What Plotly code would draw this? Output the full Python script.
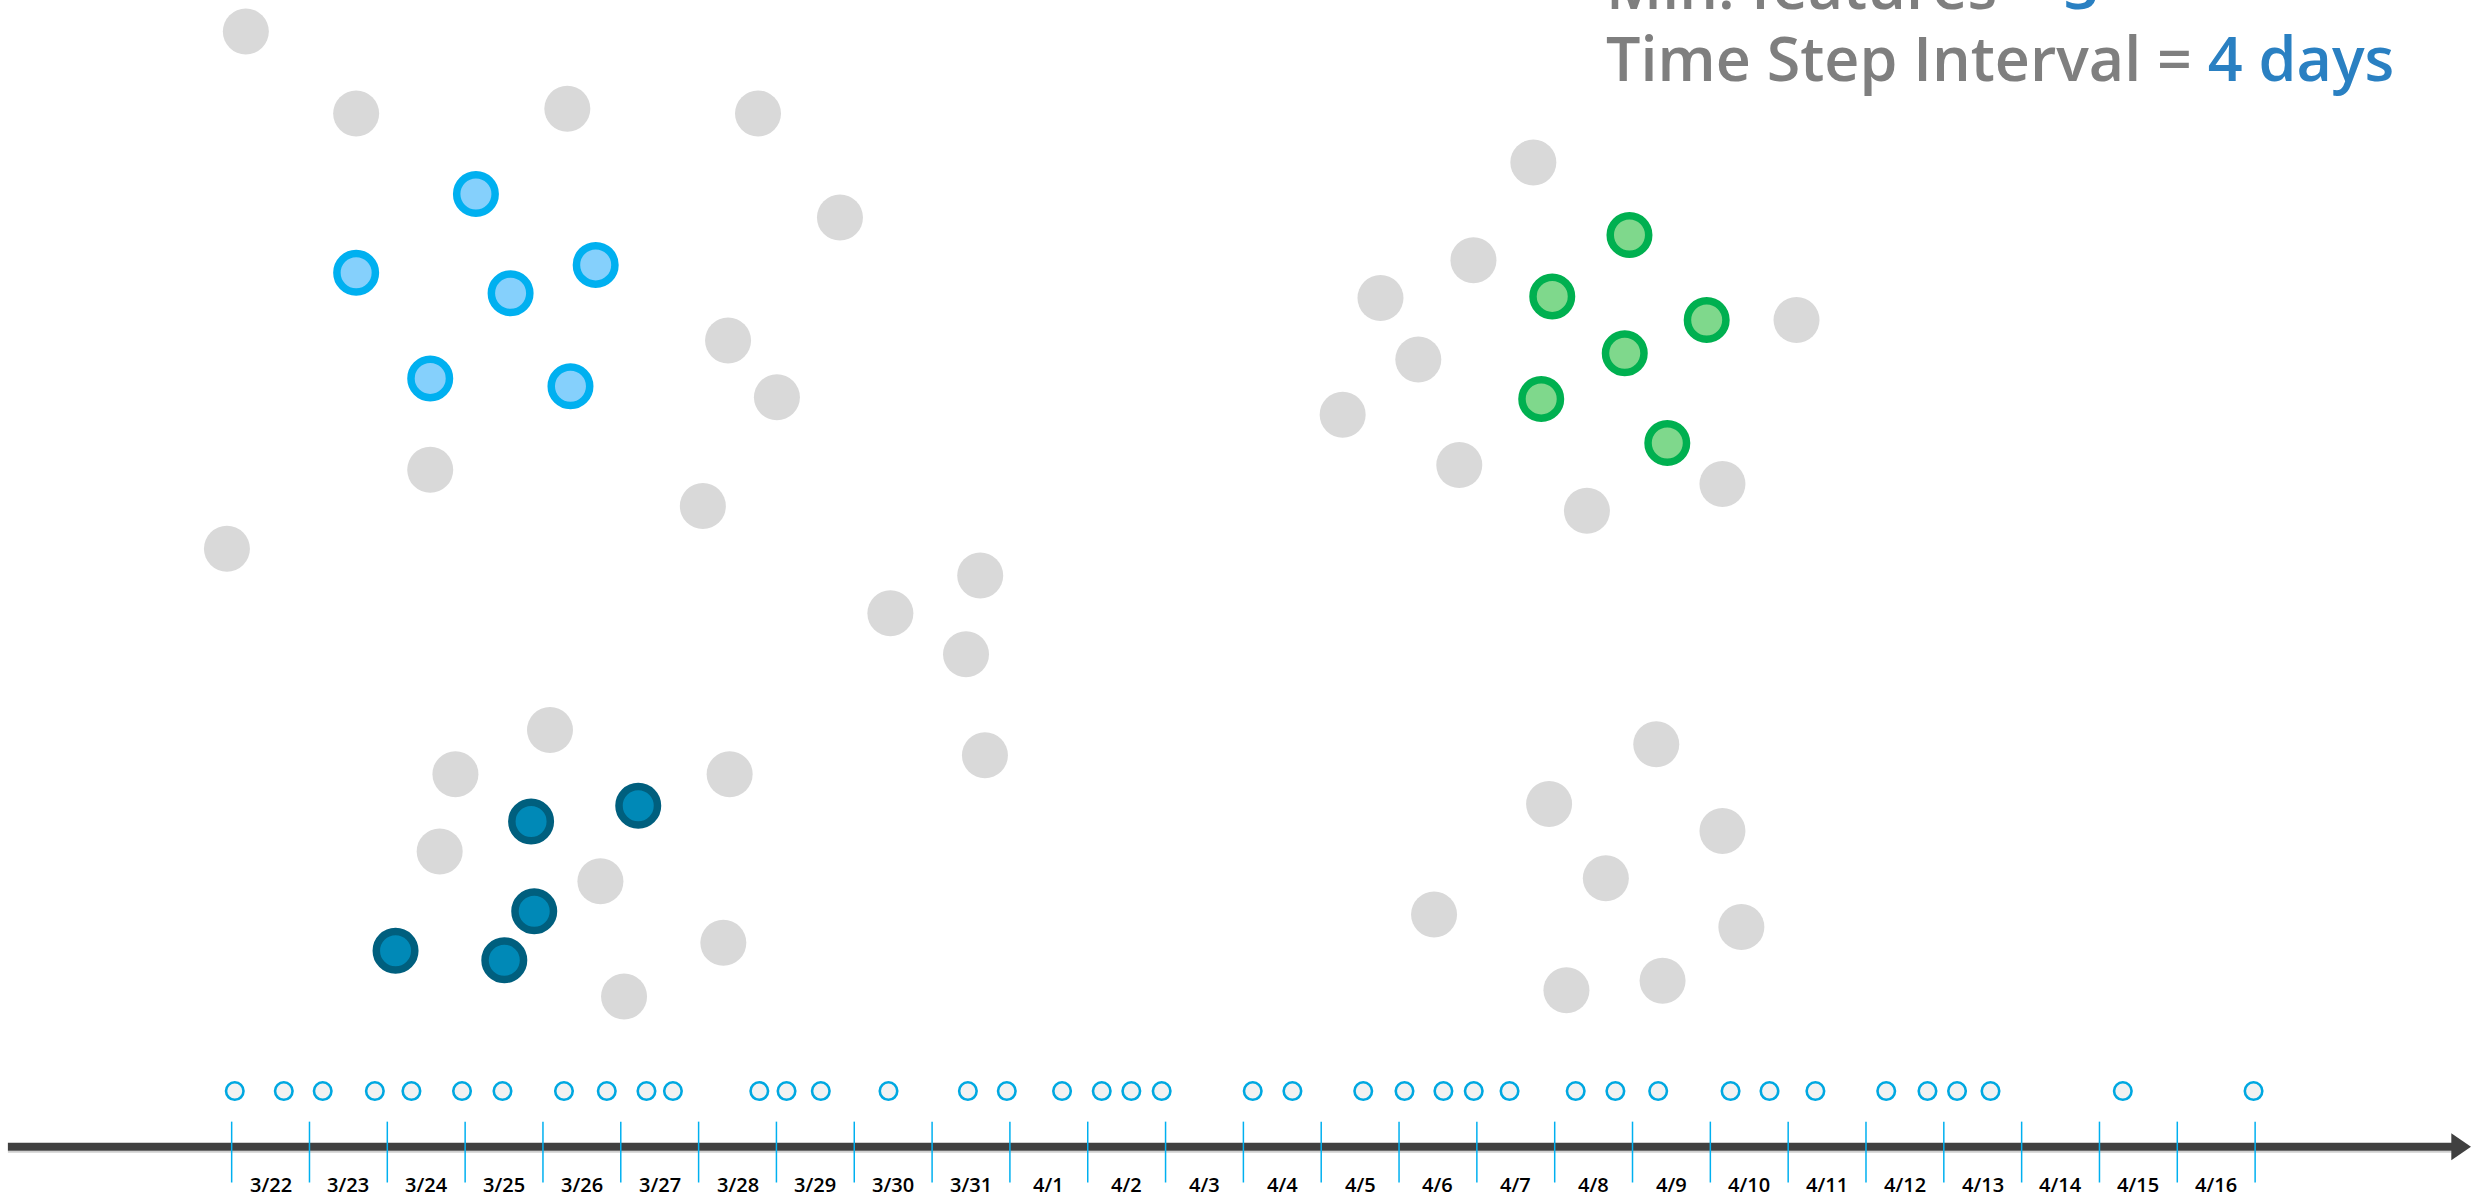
import plotly.graph_objects as go

# ---- event locations in the scene (horizontal, vertical position units) ----
bg_x = [156, 226, 360, 481, 533, 462, 493, 273, 446, 144,
        565, 622, 613, 625,
        349, 289, 463, 279, 381, 459, 396,
        973, 935, 876, 900, 852, 926, 1007, 1093, 1140,
        1051, 983, 1093, 1019, 910, 1105, 1055, 994]
bg_y = [20, 72, 69, 72, 138, 216, 252, 298, 321, 348,
        389, 365, 415, 479,
        463, 491, 491, 540, 559, 598, 632,
        103, 165, 189, 228, 263, 295, 324, 307, 203,
        472, 510, 527, 557, 580, 588, 622, 628]

cluster_a_x = [302, 226, 324, 378, 273, 362]
cluster_a_y = [123, 173, 186, 168, 240, 245]

cluster_b_x = [337, 405, 339, 251, 320]
cluster_b_y = [521, 511, 578, 603, 609]

cluster_c_x = [1034, 985, 1083, 1031, 978, 1058]
cluster_c_y = [149, 188, 203, 224, 253, 281]

# ---- event times, in days after the start of 3/22 ----
event_days = [0.04, 0.67, 1.17, 1.84, 2.31, 2.96, 3.48, 4.27, 4.82, 5.33,
              5.67, 6.78, 7.13, 7.57, 8.44, 9.46, 9.96, 10.67, 11.18, 11.56,
              11.95, 13.12, 13.63, 14.54, 15.07, 15.57, 15.96, 16.42, 17.27, 17.78,
              18.33, 19.26, 19.76, 20.35, 21.26, 21.79, 22.17, 22.60, 24.30, 25.98]

day_labels = ["3/22", "3/23", "3/24", "3/25", "3/26", "3/27", "3/28", "3/29",
              "3/30", "3/31", "4/1", "4/2", "4/3", "4/4", "4/5", "4/6", "4/7",
              "4/8", "4/9", "4/10", "4/11", "4/12", "4/13", "4/14", "4/15", "4/16"]

W, H = 2471, 1203
SCENE_W, SCENE_H = 1568, 763
DAY0_X, DAY_W = 147, 49.385          # timeline origin and width of one day
AXIS_Y, TICK_TOP, TICK_BOT = 727.3, 711.4, 750.0
EVENT_Y, LABEL_Y = 692, 751.5

GRAY = "#d9d9d9"
FONT = "Open Sans"

fig = go.Figure()

fig.add_trace(go.Scatter(
    x=bg_x, y=bg_y, mode="markers", hoverinfo="skip",
    marker=dict(size=46, color=GRAY, line=dict(width=0))))

for cx, cy, fill, edge in [
    (cluster_a_x, cluster_a_y, "#85d0fc", "#00b0f0"),
    (cluster_b_x, cluster_b_y, "#0089b7", "#005f7e"),
    (cluster_c_x, cluster_c_y, "#7fd88c", "#00b050"),
]:
    fig.add_trace(go.Scatter(
        x=cx, y=cy, mode="markers", hoverinfo="skip",
        marker=dict(size=38.5, color=fill, line=dict(width=7.5, color=edge))))

# events placed on the day-based timeline axis
fig.add_trace(go.Scatter(
    x=event_days, y=[EVENT_Y] * len(event_days), xaxis="x2", yaxis="y",
    mode="markers", hoverinfo="skip",
    marker=dict(size=17.5, color="#f2f2f2", line=dict(width=2.6, color="#00a8e1"))))

shapes = []
# time arrow
shapes.append(dict(type="line", xref="x", yref="y", x0=5, x1=1557,
                   y0=AXIS_Y + 3.2, y1=AXIS_Y + 3.2, line=dict(color="#cfcfcf", width=2)))
shapes.append(dict(type="line", xref="x", yref="y", x0=5, x1=1557,
                   y0=AXIS_Y, y1=AXIS_Y, line=dict(color="#404040", width=8)))
shapes.append(dict(type="path", xref="x", yref="y",
                   path=f"M 1555.5 {AXIS_Y - 8.6} L 1568 {AXIS_Y} L 1555.5 {AXIS_Y + 8.6} Z",
                   fillcolor="#404040", line=dict(width=0)))
# day boundaries
for d in range(len(day_labels) + 1):
    shapes.append(dict(type="line", xref="x2", yref="y", x0=d, x1=d,
                       y0=TICK_TOP, y1=TICK_BOT, line=dict(color="#00b0f0", width=1.5)))

annotations = []
for i, lab in enumerate(day_labels):
    annotations.append(dict(
        x=i + 0.5, y=LABEL_Y, xref="x2", yref="y", text=lab, showarrow=False,
        xanchor="center", yanchor="middle",
        font=dict(family=FONT, size=20, color="#000000", weight=600)))

title_font = dict(family=FONT, size=61, color="#7f7f7f", weight=600)
annotations.append(dict(
    x=1604 / W, y=1 + 14 / H, xref="paper", yref="paper", xanchor="left", yanchor="middle",
    showarrow=False, font=title_font,
    text="Min. features = <span style='color:#2a80c2'>3</span>"))
annotations.append(dict(
    x=1604 / W, y=1 - 58 / H, xref="paper", yref="paper", xanchor="left", yanchor="middle",
    showarrow=False, font=title_font,
    text="Time Step Interval = <span style='color:#2a80c2'>4 days</span>"))

fig.update_layout(
    width=W, height=H, margin=dict(l=0, r=0, t=0, b=0),
    paper_bgcolor="white", plot_bgcolor="white", showlegend=False,
    xaxis=dict(range=[0, SCENE_W], visible=False, fixedrange=True),
    xaxis2=dict(range=[-DAY0_X / DAY_W, (SCENE_W - DAY0_X) / DAY_W],
                overlaying="x", visible=False, fixedrange=True),
    yaxis=dict(range=[SCENE_H, 0], visible=False, fixedrange=True),
    shapes=shapes, annotations=annotations,
)

fig.write_html("out.html")
